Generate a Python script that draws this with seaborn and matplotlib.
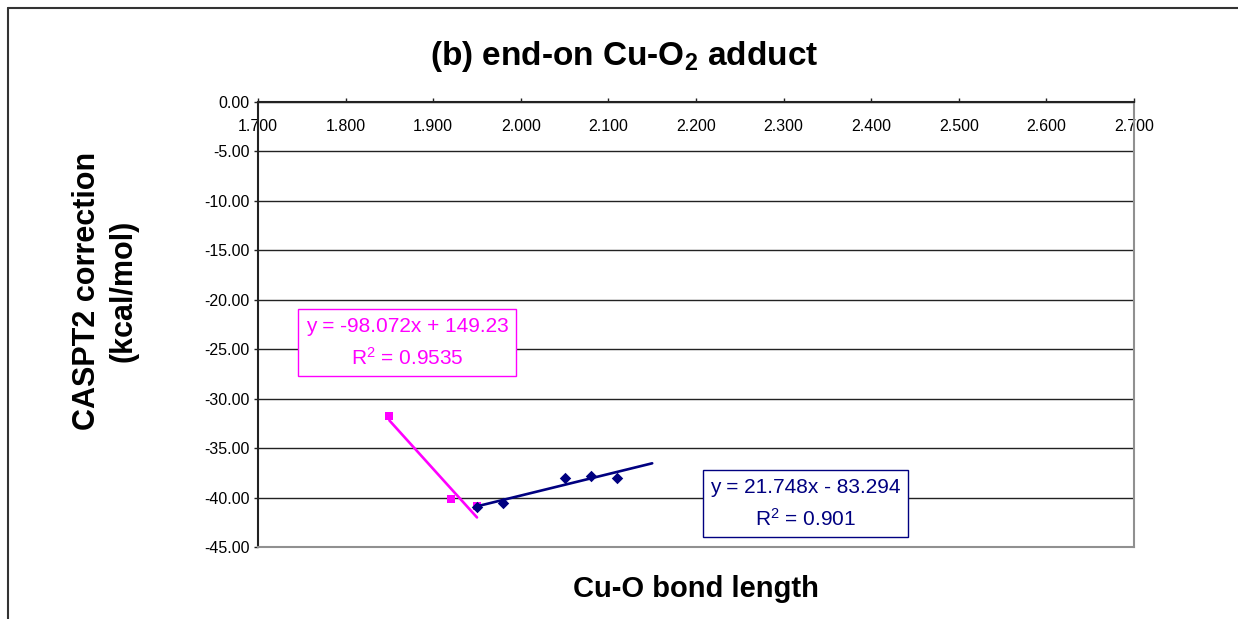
import numpy as np
import pandas as pd
import matplotlib
matplotlib.use('Agg')
import matplotlib.pyplot as plt
from matplotlib.lines import Line2D
import seaborn as sns

# Cu-O bond length vs CASPT2 correction (kcal/mol)
pink_x = [1.85, 1.92, 1.95]
pink_y = [-31.8, -40.1, -40.9]
blue_x = [1.95, 1.98, 2.05, 2.08, 2.11]
blue_y = [-41.0, -40.5, -38.0, -37.8, -38.0]

# excel linear trendlines: slope, intercept, r2
pink_fit = [-98.072, 149.23, 0.9535]
blue_fit = [21.748, -83.294, 0.901]
blue_forward = 0.04

x_ticks = [1.7, 1.8, 1.9, 2.0, 2.1, 2.2, 2.3, 2.4, 2.5, 2.6, 2.7]
y_ticks = [0, -5, -10, -15, -20, -25, -30, -35, -40, -45]

PINK = '#FF00FF'
NAVY = '#000080'

sns.set_style('white')
plt.rcParams['font.family'] = ['Liberation Sans', 'DejaVu Sans']
plt.rcParams['text.color'] = 'black'
plt.rcParams['xtick.color'] = 'black'
plt.rcParams['ytick.color'] = 'black'
plt.rcParams['mathtext.fontset'] = 'custom'
plt.rcParams['mathtext.rm'] = 'Liberation Sans'
plt.rcParams['mathtext.bf'] = 'Liberation Sans:bold'
plt.rcParams['mathtext.default'] = 'regular'

W, H = 1238, 619
fig = plt.figure(figsize=(W / 100, H / 100), dpi=100)
ax = fig.add_axes([258 / W, 1 - 547 / H, (1134 - 258) / W, (547 - 102) / H])


def trend(xs, fit, forward=0.0):
    tx = np.array([min(xs), max(xs) + forward])
    return tx, fit[0] * tx + fit[1]


tx, ty = trend(pink_x, pink_fit)
sns.lineplot(x=tx, y=ty, color=PINK, lw=1.9, ax=ax, zorder=3)
sns.scatterplot(x=pink_x, y=pink_y, marker='s', s=36, color=PINK,
                edgecolor=PINK, linewidth=0, ax=ax, zorder=4)
tx, ty = trend(blue_x, blue_fit, blue_forward)
sns.lineplot(x=tx, y=ty, color=NAVY, lw=1.9, ax=ax, zorder=5)
sns.scatterplot(x=blue_x, y=blue_y, marker='D', s=34, color=NAVY,
                edgecolor=NAVY, linewidth=0, ax=ax, zorder=6)

ax.set_xlim(1.7, 2.7)
ax.set_ylim(-45, 0)
ax.set_xticks(x_ticks)
ax.set_xticklabels([f'{v:.3f}' for v in x_ticks])
ax.set_yticks(y_ticks)
ax.set_yticklabels([f'{v:.2f}' for v in y_ticks])
ax.xaxis.set_ticks_position('top')
ax.tick_params(axis='x', which='both', top=True, bottom=False, labeltop=True,
               labelbottom=False, direction='out', length=3, width=1,
               color='#222222', labelsize=11.5, pad=-26)
ax.tick_params(axis='y', left=True, direction='out', length=3, width=1,
               color='#222222', labelsize=11.5, pad=3)
ax.yaxis.grid(True, color='#222222', lw=1)
ax.xaxis.grid(False)
for side in ['top', 'left']:
    ax.spines[side].set_color('#222222')
    ax.spines[side].set_linewidth(1.5)
for side in ['bottom', 'right']:
    ax.spines[side].set_color('#909090')
    ax.spines[side].set_linewidth(1.5)
ax.set_xlabel('')
ax.set_ylabel('')

# trendline labels
fig.text(407 / W, 1 - 342.5 / H,
         f'y = {pink_fit[0]}x + {pink_fit[1]}\nR$^2$ = {pink_fit[2]}',
         color=PINK, fontsize=15, ha='center', va='center', ma='center',
         linespacing=1.6,
         bbox=dict(boxstyle='square,pad=0.35', fc='white', ec=PINK, lw=1))
fig.text(805.5 / W, 1 - 503.5 / H,
         f'y = {blue_fit[0]}x - {-blue_fit[1]}\nR$^2$ = {blue_fit[2]}',
         color=NAVY, fontsize=15, ha='center', va='center', ma='center',
         linespacing=1.6,
         bbox=dict(boxstyle='square,pad=0.35', fc='white', ec=NAVY, lw=1))

fig.text(624 / W, 1 - 56 / H, r'(b) end-on Cu-O$_\mathbf{2}$ adduct',
         fontsize=24, fontweight='bold', ha='center', va='center')
fig.text(696 / W, 1 - 589 / H, 'Cu-O bond length',
         fontsize=21, fontweight='bold', ha='center', va='center')
fig.text(105 / W, 1 - 291 / H, 'CASPT2 correction\n(kcal/mol)',
         fontsize=22, fontweight='bold', ha='center', va='center',
         rotation=90, linespacing=1.3)

# chart area frame
fig.add_artist(Line2D([8 / W, 1.01], [1 - 8 / H, 1 - 8 / H],
                      transform=fig.transFigure, color='#333333', lw=1.5))
fig.add_artist(Line2D([8 / W, 8 / W], [-0.01, 1 - 8 / H],
                      transform=fig.transFigure, color='#333333', lw=1.5))

fig.savefig('out.png', dpi=100, facecolor='white')
